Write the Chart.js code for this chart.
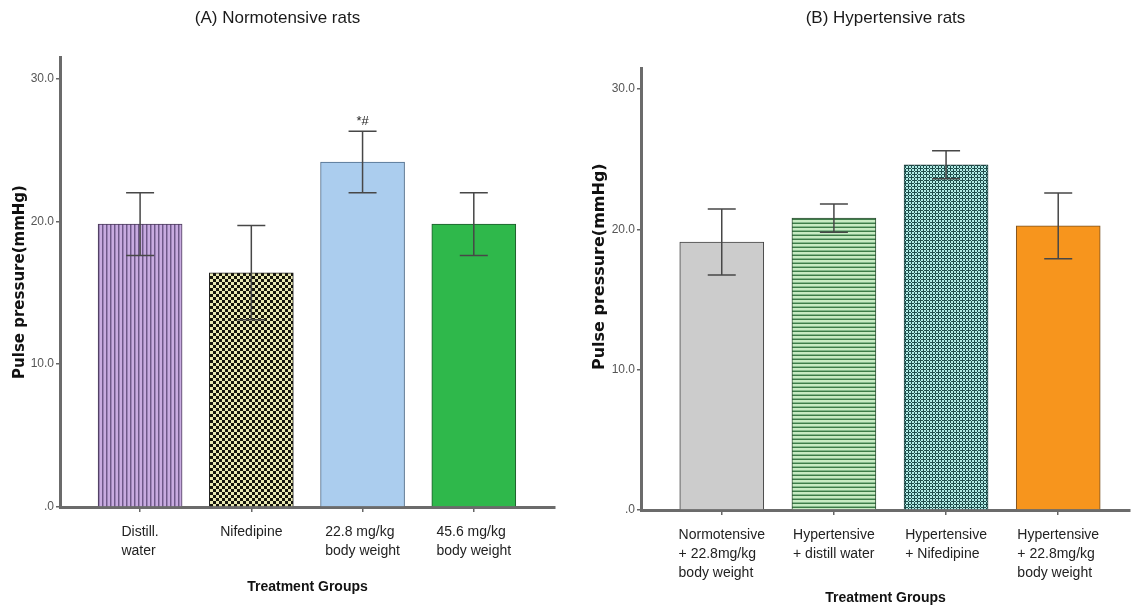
<!DOCTYPE html>
<html><head><meta charset="utf-8">
<script src="https://cdn.jsdelivr.net/npm/chart.js@4.4.0/dist/chart.umd.min.js"></script>
<style>
html,body{margin:0;padding:0;background:#fff;width:1132px;height:607px;overflow:hidden}
.box{position:absolute;top:0;width:566px;height:607px}
</style></head><body>
<div class="box" style="left:0"><canvas id="cA" width="566" height="607"></canvas></div>
<div class="box" style="left:566px"><canvas id="cB" width="566" height="607"></canvas></div>
<script>
// ---- data ----
const categoriesA = [['Distill.', 'water'], ['Nifedipine'], ['22.8 mg/kg', 'body weight'], ['45.6 mg/kg', 'body weight']];
const meansA = [19.8, 16.4, 24.15, 19.8];
const errorsA = [2.2, 3.3, 2.15, 2.2];
const marksA = ['', '', '*#', ''];

const categoriesB = [['Normotensive', '+ 22.8mg/kg', 'body weight'], ['Hypertensive', '+ distill water'], ['Hypertensive', '+ Nifedipine'], ['Hypertensive', '+ 22.8mg/kg', 'body weight']];
const meansB = [19.1, 20.8, 24.6, 20.25];
const errorsB = [2.35, 1.0, 1.0, 2.35];
const marksB = ['', '', '', ''];

const yTicks = [0, 10, 20, 30];

// ---- styles ----
const SANS = "'Liberation Sans', Arial, sans-serif";
const DEJA = "'DejaVu Sans', Verdana, sans-serif";

function pattern(w, h, draw) {
  const c = document.createElement('canvas'); c.width = w; c.height = h;
  const g = c.getContext('2d'); draw(g); return g.createPattern(c, 'repeat');
}
const purpleStripes = pattern(4, 4, g => {
  g.fillStyle = '#c8abe0'; g.fillRect(0, 0, 4, 4);
  g.fillStyle = '#6e5888'; g.fillRect(2, 0, 1, 4);
  g.fillStyle = '#9d84b8'; g.fillRect(3, 0, 1, 4);
});
const checker = pattern(6, 6, g => {
  g.fillStyle = '#e8e8b2'; g.fillRect(0, 0, 6, 6);
  g.fillStyle = '#15150c'; g.fillRect(0, 0, 3, 3); g.fillRect(3, 3, 3, 3);
});
const greenStripes = pattern(4, 4, g => {
  g.fillStyle = '#c8ebc3'; g.fillRect(0, 0, 4, 4);
  g.fillStyle = '#3d7c48'; g.fillRect(0, 3, 4, 1);
  g.fillStyle = '#86b98c'; g.fillRect(0, 2, 4, 1);
});
const cyanCross = pattern(6, 6, g => {
  g.fillStyle = '#b2ece6'; g.fillRect(0, 0, 6, 6);
  g.fillStyle = '#1f4e4c';
  const pts = [[0, 0], [3, 3]];
  const offs = [[0,0],[1,0],[-1,0],[0,1],[0,-1],[2,0],[-2,0],[0,2],[0,-2]];
  pts.forEach(([cx, cy]) => offs.forEach(([dx, dy]) => {
    g.fillRect(((cx + dx) % 6 + 6) % 6, ((cy + dy) % 6 + 6) % 6, 1, 1);
  }));
});

const colorsA = [purpleStripes, checker, '#abcdee', '#2fb84b'];
const bordersA = ['#4a3a5a', '#222222', '#4d6a88', '#1e5a2c'];
const colorsB = ['#cccccc', greenStripes, cyanCross, '#f7951d'];
const bordersB = ['#444444', '#2e4e34', '#1d3e3c', '#7a5020'];

function errorPlugin(means, errs, marks) {
  return {
    id: 'errbars',
    afterDatasetsDraw(chart) {
      const { ctx, scales: { x, y } } = chart;
      ctx.save();
      ctx.strokeStyle = '#474747'; ctx.lineWidth = 1.5;
      means.forEach((m, i) => {
        const px = x.getPixelForValue(i);
        const t = y.getPixelForValue(m + errs[i]);
        const b = y.getPixelForValue(m - errs[i]);
        ctx.beginPath();
        ctx.moveTo(px, t); ctx.lineTo(px, b);
        ctx.moveTo(px - 14, t); ctx.lineTo(px + 14, t);
        ctx.moveTo(px - 14, b); ctx.lineTo(px + 14, b);
        ctx.stroke();
        if (marks[i]) {
          ctx.fillStyle = '#222'; ctx.font = "13px " + SANS;
          ctx.textAlign = 'center'; ctx.textBaseline = 'bottom';
          ctx.fillText(marks[i], px, t - 3);
        }
      });
      ctx.restore();
    }
  };
}

// category labels: block centred on the tick, lines left-aligned (as in the original)
function labelPlugin(cats, firstOffset) {
  return {
    id: 'catlabels',
    afterDraw(chart) {
      const { ctx, scales: { x } } = chart;
      ctx.save();
      ctx.font = "14px " + SANS; ctx.fillStyle = '#222';
      ctx.textAlign = 'left'; ctx.textBaseline = 'middle';
      cats.forEach((lines, i) => {
        const px = x.getPixelForValue(i);
        const w = Math.max(...lines.map(l => ctx.measureText(l).width));
        lines.forEach((l, j) => ctx.fillText(l, px - w / 2, x.top + firstOffset + j * 19));
      });
      ctx.restore();
    }
  };
}

function makeChart(id, cfg) {
  const data = cfg.means.map((m, i) => ({ x: i, y: m }));
  return new Chart(document.getElementById(id), {
    type: 'bar',
    data: { datasets: [{
      data,
      backgroundColor: cfg.colors,
      borderColor: cfg.borders,
      borderWidth: 1,
      borderSkipped: 'start',
      barThickness: 84
    }] },
    options: {
      responsive: false,
      animation: false,
      layout: { padding: { left: 0, right: cfg.padRight, top: 0, bottom: 0 } },
      plugins: {
        legend: { display: false },
        tooltip: { enabled: false },
        title: {
          display: true, text: cfg.title, fullSize: cfg.titleFull,
          color: '#1a1a1a', font: { family: SANS, size: 17, weight: 'normal', lineHeight: 1.2 },
          padding: { top: 8, bottom: cfg.titleBottom }
        }
      },
      scales: {
        x: {
          type: 'linear', min: -0.72, max: cfg.xMax, offset: false,
          afterFit: s => { s.height = cfg.xHeight; },
          afterBuildTicks: s => { s.ticks = cfg.cats.map((c, i) => ({ value: i })); },
          ticks: { display: false, autoSkip: false, maxRotation: 0 },
          grid: { display: true, drawOnChartArea: false, drawTicks: true, tickLength: 5, offset: false, color: '#666', lineWidth: 1.5 },
          border: { display: true, color: '#6b6b6b', width: 3 },
          title: {
            display: true, text: 'Treatment Groups', color: '#111',
            font: { family: SANS, size: 14, weight: 'bold', lineHeight: 1.2 },
            padding: { top: 0, bottom: cfg.xTitlePad }
          }
        },
        y: {
          min: 0, max: 31.5,
          afterFit: s => { s.width = cfg.yWidth; },
          afterBuildTicks: s => { s.ticks = yTicks.map(v => ({ value: v })); },
          ticks: {
            color: '#555', padding: 2, font: { family: SANS, size: 12 },
            callback: v => v === 0 ? '.0' : Number(v).toFixed(1)
          },
          grid: { display: true, drawOnChartArea: false, drawTicks: true, tickLength: 4, color: '#666', lineWidth: 1.5 },
          border: { display: true, color: '#6b6b6b', width: 3 },
          title: {
            display: true, text: cfg.yTitle, color: '#111',
            font: { family: DEJA, size: cfg.yTitleSize, weight: 'bold', lineHeight: 1.2 },
            padding: { top: cfg.yTitlePad, bottom: 0 }
          }
        }
      }
    },
    plugins: [errorPlugin(cfg.means, cfg.errs, cfg.marks), labelPlugin(cfg.cats, cfg.labelOffset)]
  });
}

makeChart('cA', {
  title: '(A) Normotensive rats', titleFull: true, titleBottom: 28.6,
  cats: categoriesA, means: meansA, errs: errorsA, marks: marksA,
  colors: colorsA, borders: bordersA,
  padRight: 11, xMax: 3.73, xHeight: 100, labelOffset: 25, xTitlePad: 11.6,
  yWidth: 60, yTitle: 'Pulse pressure(mmHg)', yTitleSize: 15, yTitlePad: 11
});
makeChart('cB', {
  title: '(B) Hypertensive rats', titleFull: false, titleBottom: 39.6,
  cats: categoriesB, means: meansB, errs: errorsB, marks: marksB,
  colors: colorsB, borders: bordersB,
  padRight: 2, xMax: 3.64, xHeight: 97, labelOffset: 25, xTitlePad: 0.6,
  yWidth: 75, yTitle: '        Pulse pressure(mmHg)', yTitleSize: 16, yTitlePad: 24.4
});
</script>
</body></html>
